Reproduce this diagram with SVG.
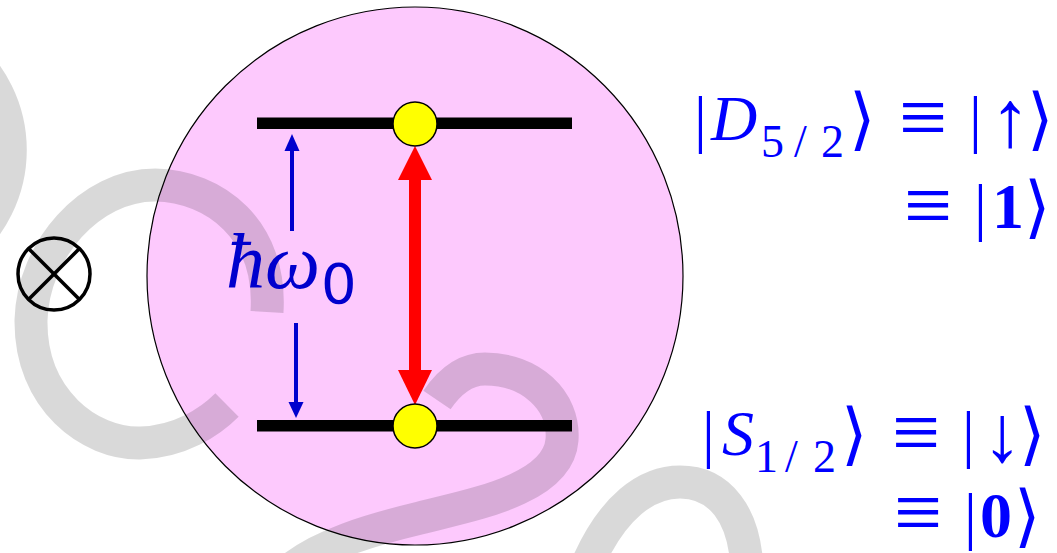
<svg xmlns="http://www.w3.org/2000/svg" width="1057" height="553" viewBox="0 0 1057 553">
<style>
.lvl{fill:#000}
.atom{fill:#ffff00;stroke:#000;stroke-width:1.5}
.blue{stroke:#0000cd;stroke-width:4;fill:none}
.bhead{fill:#0000cd}
.red{fill:#ff0000}
.wm{fill:none;stroke:#000;stroke-opacity:0.15;stroke-width:33;stroke-linecap:butt}
.ket{font-family:"Liberation Serif","DejaVu Serif",serif;font-size:64px;fill:#0000ff}
.br{font-family:"DejaVu Serif","DejaVu Sans",serif;font-size:68px}
.op{font-size:86px}
.ar{font-size:80px}
.sub{font-size:46px}
</style>
<rect width="1057" height="553" fill="#fff"/>
<g id="ion">
  <ellipse cx="415" cy="276" rx="268" ry="269" fill="#fdc9fd" stroke="#000" stroke-width="1.2"/>
</g>
<g id="level-upper"><rect class="lvl" x="257" y="117.5" width="315" height="11.5"/></g>
<g id="level-lower"><rect class="lvl" x="257" y="420" width="315" height="11.5"/></g>
<g id="connectors">
  <g id="transition">
    <rect class="red" x="409" y="178" width="12" height="194"/>
    <polygon class="red" points="415,146 398,180 432,180"/>
    <polygon class="red" points="415,405 398,370 432,370"/>
  </g>
  <g id="gap-arrows">
    <line class="blue" x1="292" y1="231" x2="292" y2="150"/>
    <polygon class="bhead" points="292,134 284.5,151 299.5,151"/>
    <line class="blue" x1="296" y1="323" x2="296" y2="403"/>
    <polygon class="bhead" points="296,418 288.5,402 303.5,402"/>
  </g>
</g>
<g id="atom-upper"><circle class="atom" cx="415" cy="124" r="22"/></g>
<g id="atom-lower"><circle class="atom" cx="415" cy="426" r="22"/></g>
<g id="field">
  <circle cx="54" cy="274" r="36" fill="none" stroke="#000" stroke-width="3.5"/>
  <line x1="28.5" y1="248.5" x2="79.5" y2="299.5" stroke="#000" stroke-width="3.5"/>
  <line x1="79.5" y1="248.5" x2="28.5" y2="299.5" stroke="#000" stroke-width="3.5"/>
</g>
<g id="watermark">
  <path class="wm" d="M -36,51 A 129,129 0 0 1 -36,249"/>
  <path class="wm" d="M 267,312 C 272,230 215,186 155,185 C 90,185 33,250 31,320 C 30,400 90,444 140,443 C 180,442 210,422 227,405"/>
  <path class="wm" d="M 437,400 C 452,378 468,369 485,369 C 530,369 565,400 562,440 C 558,490 470,505 420,518 C 370,530 320,545 290,570"/>
  <path class="wm" d="M 585,570 C 612,505 648,482 680,482 C 720,482 745,515 747,570"/>
</g>
<g id="label-energy">
  <text font-family="'Liberation Serif',serif" font-size="78" fill="#0000cd" x="226" y="288"><tspan font-style="italic">ħω</tspan><tspan font-family="'DejaVu Sans',sans-serif" font-size="56" x="321" y="303">0</tspan></text>
</g>
<g id="label-upper">
  <text class="ket" y="140"><tspan x="694">|</tspan><tspan x="711" font-style="italic">D</tspan><tspan class="sub" x="761" y="157">5</tspan><tspan class="sub" x="794">/</tspan><tspan class="sub" x="821">2</tspan><tspan class="br" x="849" y="142">⟩</tspan><tspan class="op" x="899" y="146">≡</tspan><tspan x="969" y="140">|</tspan><tspan class="ar" x="990" y="146">↑</tspan><tspan class="br" x="1027" y="142">⟩</tspan></text>
  <text class="ket" y="228"><tspan class="op" x="904" y="234">≡</tspan><tspan x="974" y="228">|</tspan><tspan x="992" font-weight="bold">1</tspan><tspan class="br" x="1024" y="230">⟩</tspan></text>
</g>
<g id="label-lower">
  <text class="ket" y="455"><tspan x="702">|</tspan><tspan x="722" font-style="italic">S</tspan><tspan class="sub" x="755" y="472">1</tspan><tspan class="sub" x="785">/</tspan><tspan class="sub" x="813">2</tspan><tspan class="br" x="841" y="457">⟩</tspan><tspan class="op" x="892" y="461">≡</tspan><tspan x="962" y="455">|</tspan><tspan class="ar" x="982" y="461">↓</tspan><tspan class="br" x="1019" y="457">⟩</tspan></text>
  <text class="ket" y="537"><tspan class="op" x="894" y="541">≡</tspan><tspan x="964" y="537">|</tspan><tspan x="980" font-weight="bold">0</tspan><tspan class="br" x="1014" y="539">⟩</tspan></text>
</g>
</svg>
